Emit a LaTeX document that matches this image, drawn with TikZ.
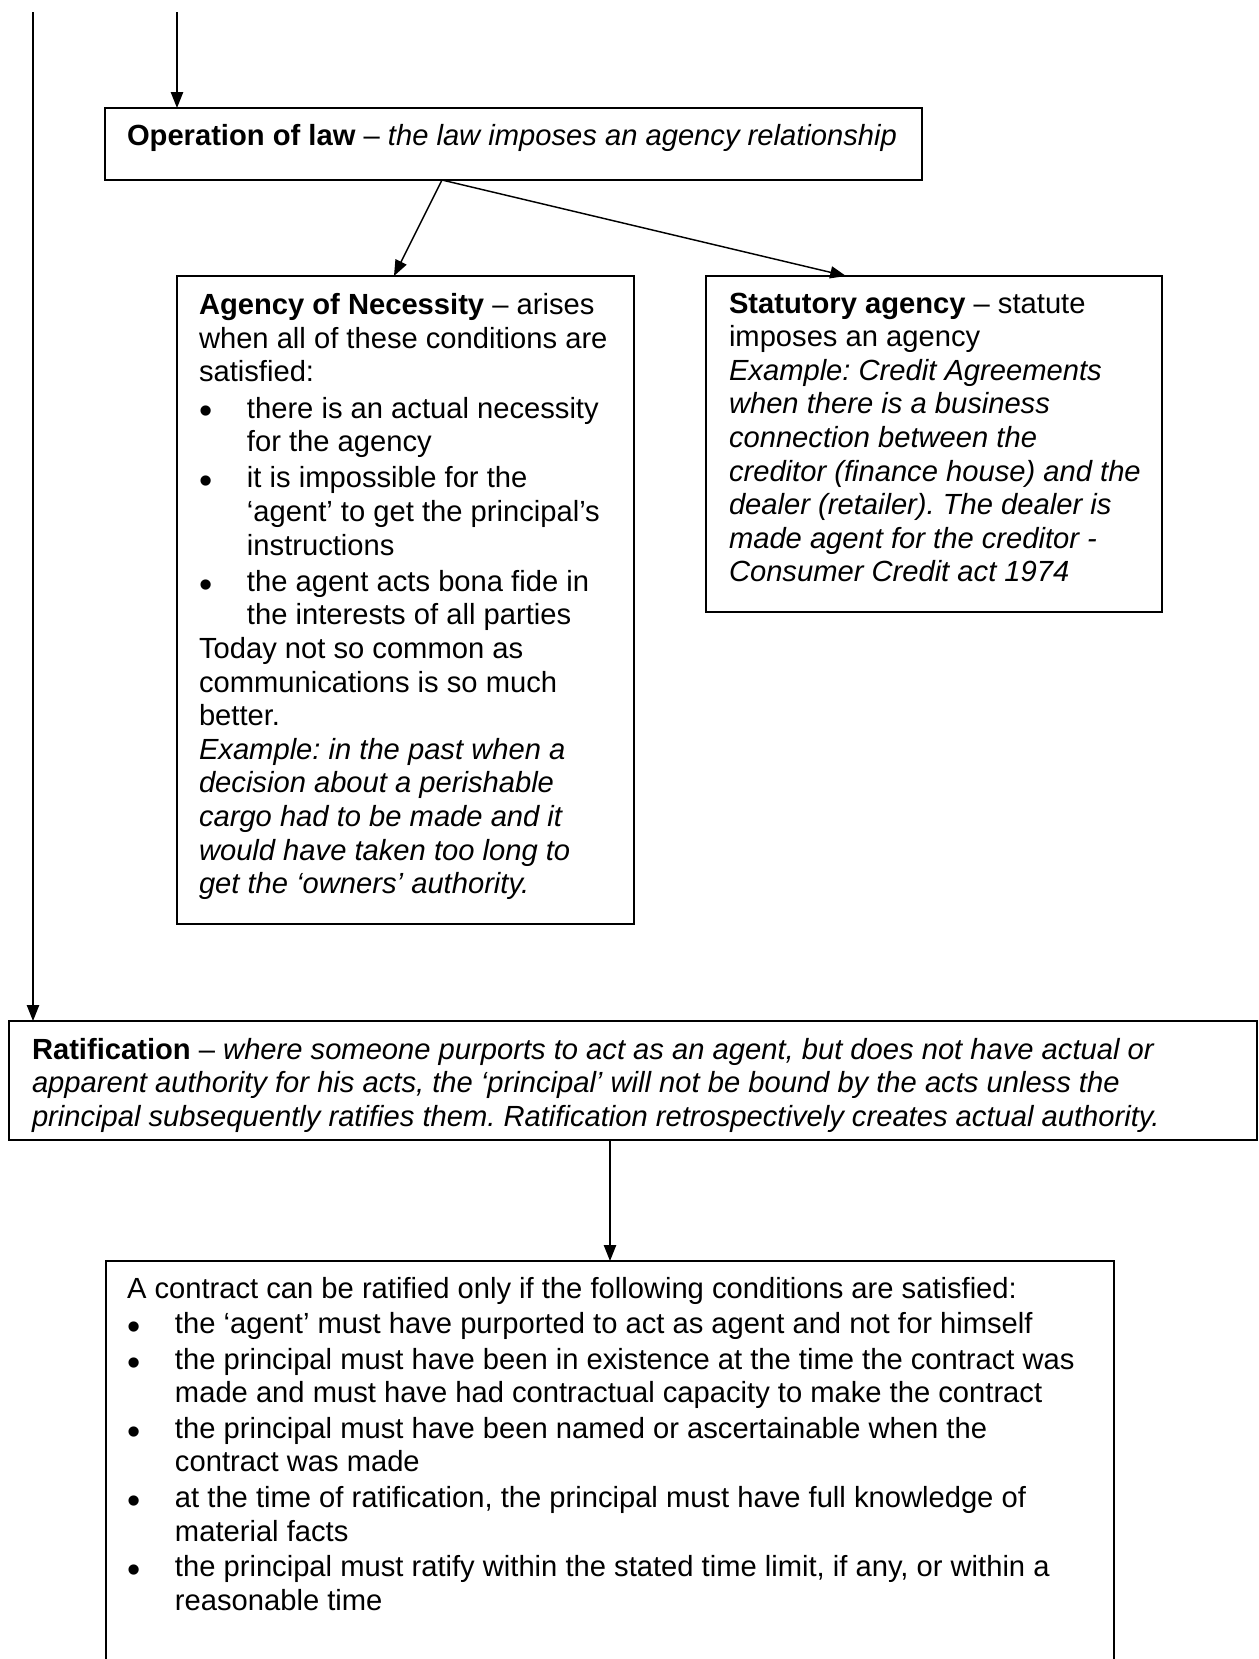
\documentclass[tikz,border=0pt]{standalone}
\usepackage{fontspec}
\setmainfont{Liberation Sans}
\usetikzlibrary{arrows.meta,calc}
\newcommand\bigbul{\smash{\raisebox{-2.45pt}{\fontsize{15.5}{15.5}\selectfont\textbullet}}}
\frenchspacing
\begin{document}
\begin{tikzpicture}[x=0.4115pt,y=-0.4115pt,
  box/.style={draw, line width=0.8pt, inner sep=0pt, outer sep=0pt, anchor=north west},
  arr/.style={line width=0.6pt, -{Triangle[width=5pt,length=6.5pt]}},
  txt/.style={anchor=base west, inner sep=0pt, outer sep=0pt},
  font=\fontsize{12}{13.83}\selectfont]
\useasboundingbox (0,0) rectangle (1259,1659);
\clip (0,0) rectangle (1259,1659);
% boxes
\node[box, minimum width=336.2pt, minimum height=29.63pt] (op) at (105,108) {};
\node[box, minimum width=188.06pt, minimum height=266.65pt] (agency) at (177,276) {};
\node[box, minimum width=187.64pt, minimum height=138.26pt] (stat) at (706,276) {};
\node[box, minimum width=513.55pt, minimum height=48.97pt] (rat) at (9,1021) {};
\node[box, minimum width=414.79pt, minimum height=188.88pt] (bottom) at (106,1261) {};
% texts
\node[txt] (optext) at (127,145) {\textbf{Operation of law} – \textit{the law imposes an agency relationship}};
\node[txt] (agtext) at (199,314.6) {\parbox[t]{200pt}{%
\textbf{Agency of Necessity} – arises\\
when all of these conditions are\\
satisfied:\\[1.07pt]
\makebox[19.75pt][l]{\bigbul}there is an actual necessity\\
\hspace*{19.75pt}for the agency\\[1.07pt]
\makebox[19.75pt][l]{\bigbul}it is impossible for the\\
\hspace*{19.75pt}‘agent’ to get the principal’s\\
\hspace*{19.75pt}instructions\\[1.07pt]
\makebox[19.75pt][l]{\bigbul}the agent acts bona fide in\\
\hspace*{19.75pt}the interests of all parties\\
Today not so common as\\
communications is so much\\
better.\\
\textit{Example: in the past when a}\\
\textit{decision about a perishable}\\
\textit{cargo had to be made and it}\\
\textit{would have taken too long to}\\
\textit{get the ‘owners’ authority.}}};
\node[txt] (sttext) at (729,313) {\parbox[t]{200pt}{%
\textbf{Statutory agency} – statute\\
imposes an agency\\
\textit{Example: Credit Agreements}\\
\textit{when there is a business}\\
\textit{connection between the}\\
\textit{creditor (finance house) and the}\\
\textit{dealer (retailer). The dealer is}\\
\textit{made agent for the creditor -}\\
\textit{Consumer Credit act 1974}}};
\node[txt] (rattext) at (32,1059) {\parbox[t]{500pt}{%
\textbf{Ratification} – \textit{where someone purports to act as an agent, but does not have actual or}\\
\textit{apparent authority for his acts, the ‘principal’ will not be bound by the acts unless the}\\
\textit{principal subsequently ratifies them. Ratification retrospectively creates actual authority.}}};
\node[txt] (bottext) at (127,1298) {\parbox[t]{420pt}{%
A contract can be ratified only if the following conditions are satisfied:\\[0.8pt]
\makebox[19.75pt][l]{\bigbul}the ‘agent’ must have purported to act as agent and not for himself\\[0.8pt]
\makebox[19.75pt][l]{\bigbul}the principal must have been in existence at the time the contract was\\
\hspace*{19.75pt}made and must have had contractual capacity to make the contract\\[0.8pt]
\makebox[19.75pt][l]{\bigbul}the principal must have been named or ascertainable when the\\
\hspace*{19.75pt}contract was made\\[0.8pt]
\makebox[19.75pt][l]{\bigbul}at the time of ratification, the principal must have full knowledge of\\
\hspace*{19.75pt}material facts\\[0.8pt]
\makebox[19.75pt][l]{\bigbul}the principal must ratify within the stated time limit, if any, or within a\\
\hspace*{19.75pt}reasonable time}};
% connectors
\coordinate (ltop) at (33,12);
\coordinate (ttop) at (177,12);
\draw[arr] (ttop) -- (ttop |- op.north);
\draw[arr] (ltop) -- (ltop |- rat.north);
\coordinate (split) at ($(op.south west)!0.4125!(op.south east)$);
\draw[arr] (split) -- ($(agency.north west)!0.4748!(agency.north east)$);
\draw[arr] (split) -- ($(stat.north west)!0.307!(stat.north east)$);
\draw[arr] (bottom.north |- rat.south) -- (bottom.north);
\end{tikzpicture}
\end{document}
